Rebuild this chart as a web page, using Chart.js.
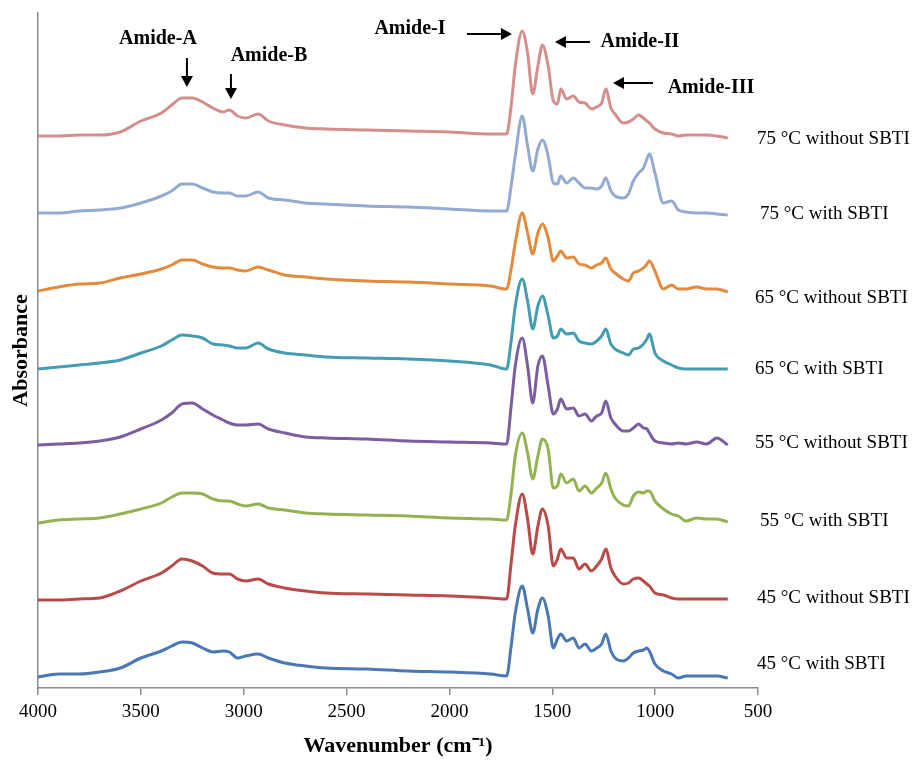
<!DOCTYPE html>
<html>
<head>
<meta charset="utf-8">
<script src="https://cdn.jsdelivr.net/npm/chart.js@4.4.1/dist/chart.umd.min.js"></script>
<style>
  body { margin: 0; background: #fff; }
  #wrap { width: 917px; height: 760px; position: relative; }
</style>
</head>
<body>
<div id="wrap"><canvas id="ftir"></canvas></div>
<script>

// wavenumber grid (cm-1), shared by all spectra
var wavenumbers = [4000, 3900, 3800, 3700, 3600, 3500, 3400, 3350, 3300, 3250,
  3200, 3150, 3100, 3070, 3030, 2990, 2930, 2880, 2800, 2700,
  2600, 2400, 2200, 2000, 1800, 1722, 1700, 1680, 1646, 1620,
  1595, 1570, 1548, 1520, 1495, 1475, 1459, 1430, 1398, 1370,
  1341, 1310, 1284, 1260, 1240, 1215, 1195, 1155, 1130, 1106,
  1080, 1057, 1040, 1028, 1001, 960, 920, 887, 850, 798,
  750, 700, 647];

// absorbance (stacked, arbitrary units)
var abs75without = [5.52, 5.52, 5.53, 5.53, 5.56, 5.67, 5.75, 5.83, 5.90, 5.90,
  5.86, 5.80, 5.76, 5.78, 5.72, 5.70, 5.74, 5.67, 5.63, 5.60,
  5.59, 5.58, 5.57, 5.56, 5.54, 5.54, 5.82, 6.22, 6.57, 6.35,
  5.94, 6.22, 6.43, 6.22, 5.87, 5.84, 5.99, 5.89, 5.92, 5.86,
  5.85, 5.79, 5.81, 5.85, 5.99, 5.80, 5.74, 5.65, 5.66, 5.69,
  5.73, 5.70, 5.67, 5.65, 5.59, 5.55, 5.54, 5.52, 5.53, 5.53,
  5.53, 5.52, 5.50];
var abs75with = [4.75, 4.75, 4.77, 4.78, 4.80, 4.85, 4.92, 4.97, 5.04, 5.04,
  5.00, 4.96, 4.95, 4.95, 4.92, 4.92, 4.96, 4.90, 4.88, 4.85,
  4.84, 4.82, 4.81, 4.79, 4.77, 4.77, 5.02, 5.32, 5.72, 5.42,
  5.17, 5.39, 5.48, 5.32, 5.05, 5.04, 5.12, 5.05, 5.10, 5.05,
  5.00, 5.00, 4.99, 5.02, 5.10, 4.97, 4.92, 4.90, 4.94, 5.07,
  5.15, 5.20, 5.29, 5.34, 5.15, 4.85, 4.87, 4.78, 4.76, 4.75,
  4.75, 4.74, 4.73];
var abs65without = [3.97, 4.01, 4.04, 4.05, 4.10, 4.14, 4.19, 4.23, 4.28, 4.28,
  4.24, 4.21, 4.20, 4.20, 4.18, 4.17, 4.21, 4.18, 4.13, 4.11,
  4.09, 4.07, 4.06, 4.04, 4.02, 3.99, 4.19, 4.45, 4.75, 4.55,
  4.34, 4.55, 4.64, 4.50, 4.27, 4.32, 4.37, 4.30, 4.31, 4.24,
  4.23, 4.20, 4.23, 4.25, 4.30, 4.19, 4.15, 4.09, 4.07, 4.15,
  4.17, 4.20, 4.24, 4.27, 4.17, 3.99, 4.03, 3.99, 3.99, 4.01,
  3.99, 3.99, 3.96];
var abs65with = [3.19, 3.21, 3.23, 3.25, 3.28, 3.35, 3.42, 3.48, 3.53, 3.52,
  3.50, 3.44, 3.43, 3.42, 3.40, 3.40, 3.45, 3.39, 3.35, 3.33,
  3.31, 3.30, 3.29, 3.27, 3.23, 3.19, 3.47, 3.82, 4.09, 3.87,
  3.59, 3.82, 3.92, 3.72, 3.50, 3.52, 3.59, 3.54, 3.55, 3.47,
  3.45, 3.44, 3.47, 3.52, 3.59, 3.44, 3.39, 3.35, 3.33, 3.39,
  3.40, 3.44, 3.49, 3.54, 3.35, 3.27, 3.23, 3.20, 3.19, 3.19,
  3.19, 3.19, 3.19];
var abs55without = [2.43, 2.44, 2.45, 2.47, 2.51, 2.59, 2.68, 2.75, 2.84, 2.85,
  2.79, 2.73, 2.68, 2.65, 2.63, 2.63, 2.64, 2.59, 2.55, 2.51,
  2.50, 2.49, 2.47, 2.46, 2.45, 2.44, 2.82, 3.22, 3.50, 3.22,
  2.85, 3.22, 3.32, 3.02, 2.74, 2.79, 2.89, 2.79, 2.80, 2.72,
  2.74, 2.67, 2.72, 2.75, 2.87, 2.70, 2.64, 2.57, 2.57, 2.60,
  2.64, 2.60, 2.59, 2.55, 2.47, 2.45, 2.44, 2.45, 2.44, 2.46,
  2.44, 2.50, 2.43];
var abs55with = [1.65, 1.68, 1.69, 1.70, 1.74, 1.79, 1.85, 1.91, 1.95, 1.95,
  1.94, 1.89, 1.87, 1.87, 1.84, 1.82, 1.84, 1.80, 1.78, 1.75,
  1.74, 1.73, 1.72, 1.70, 1.69, 1.68, 1.95, 2.32, 2.55, 2.35,
  2.09, 2.32, 2.49, 2.39, 2.00, 2.02, 2.14, 2.05, 2.09, 1.97,
  2.02, 1.95, 2.00, 2.05, 2.15, 1.99, 1.90, 1.83, 1.82, 1.92,
  1.96, 1.95, 1.97, 1.97, 1.87, 1.79, 1.74, 1.72, 1.67, 1.70,
  1.69, 1.69, 1.66];
var abs45without = [0.88, 0.88, 0.89, 0.90, 0.97, 1.07, 1.15, 1.22, 1.29, 1.27,
  1.22, 1.15, 1.14, 1.14, 1.09, 1.07, 1.09, 1.04, 1.00, 0.97,
  0.95, 0.94, 0.93, 0.92, 0.90, 0.89, 1.25, 1.62, 1.94, 1.69,
  1.34, 1.62, 1.79, 1.62, 1.22, 1.29, 1.39, 1.30, 1.30, 1.19,
  1.24, 1.17, 1.22, 1.29, 1.39, 1.20, 1.12, 1.04, 1.05, 1.09,
  1.10, 1.07, 1.04, 1.02, 0.95, 0.93, 0.90, 0.89, 0.89, 0.89,
  0.89, 0.89, 0.89];
var abs45with = [0.11, 0.14, 0.14, 0.16, 0.20, 0.30, 0.37, 0.42, 0.46, 0.45,
  0.40, 0.36, 0.37, 0.36, 0.30, 0.32, 0.34, 0.30, 0.25, 0.22,
  0.20, 0.19, 0.17, 0.16, 0.14, 0.12, 0.42, 0.75, 1.02, 0.79,
  0.55, 0.79, 0.90, 0.72, 0.40, 0.49, 0.54, 0.47, 0.50, 0.40,
  0.44, 0.37, 0.40, 0.44, 0.54, 0.37, 0.30, 0.27, 0.30, 0.35,
  0.37, 0.38, 0.40, 0.37, 0.24, 0.17, 0.14, 0.10, 0.12, 0.12,
  0.12, 0.12, 0.10];

var sampleNames = ["75 \u00B0C without SBTI", "75 \u00B0C with SBTI", "65 \u00B0C without SBTI", "65 \u00B0C with SBTI",
  "55 \u00B0C without SBTI", "55 \u00B0C with SBTI", "45 \u00B0C without SBTI", "45 \u00B0C with SBTI"];
var spectra = [abs75without, abs75with, abs65without, abs65with, abs55without, abs55with, abs45without, abs45with];
var lineColors = ['#D48F8D', '#93AAD3', '#E38A3C', '#449CB3', '#7B5DA0', '#93B350', '#B94A47', '#4A78B5'];

// band labels: name, wavenumber and level that the arrow points at
var bandNames = ['Amide-A', 'Amide-B', 'Amide-I', 'Amide-II', 'Amide-III'];
var bandWavenumbers = [3276, 3062, 1696, 1487, 1205];
var bandLevels = [6.01, 5.89, 6.54, 6.46, 6.05];


function toPoints(values) {
  var pts = [];
  for (var i = 0; i < wavenumbers.length; i++) {
    pts.push({x: wavenumbers[i], y: values[i]});
  }
  return pts;
}

var datasets = [];
for (var s = 0; s < spectra.length; s++) {
  datasets.push({
    label: sampleNames[s],
    data: toPoints(spectra[s]),
    borderColor: lineColors[s],
    borderWidth: 3,
    pointRadius: 0,
    cubicInterpolationMode: 'monotone',
    fill: false
  });
}

function drawArrow(ctx, x1, y1, x2, y2) {
  var ang = Math.atan2(y2 - y1, x2 - x1);
  var headLen = 11, half = 6;
  var bx = x2 - headLen * Math.cos(ang), by = y2 - headLen * Math.sin(ang);
  ctx.beginPath();
  ctx.moveTo(x1, y1);
  ctx.lineTo(bx, by);
  ctx.lineWidth = 2;
  ctx.strokeStyle = '#000';
  ctx.stroke();
  ctx.beginPath();
  ctx.moveTo(x2, y2);
  ctx.lineTo(bx + half * Math.sin(ang), by - half * Math.cos(ang));
  ctx.lineTo(bx - half * Math.sin(ang), by + half * Math.cos(ang));
  ctx.closePath();
  ctx.fillStyle = '#000';
  ctx.fill();
}

// sample names at the end of each trace + band arrows
var labelPlugin = {
  id: 'labels',
  afterDraw: function(chart) {
    var ctx = chart.ctx;
    var xs = chart.scales.x, ys = chart.scales.y;
    var nudgeY = [1, -1, 6, 0, -2, -1, -1, -14];
    var startX = [757, 760, 755, 755, 755, 760, 757, 757];
    ctx.save();
    ctx.font = '19px "Liberation Serif"';
    ctx.fillStyle = '#000';
    ctx.textBaseline = 'middle';
    ctx.textAlign = 'left';
    for (var i = 0; i < spectra.length; i++) {
      var last = spectra[i][spectra[i].length - 1];
      ctx.fillText(sampleNames[i], startX[i], ys.getPixelForValue(last) + nudgeY[i]);
    }

    // arrow tails and text centres, relative to the arrow tip
    var tail = [[0, -29], [0, -25], [-45, 0], [35, 0], [40, 0]];
    var text = [[-29, -48], [38, -43], [-102, -5], [85, 0], [98, 5]];
    ctx.font = 'bold 20px "Liberation Serif"';
    ctx.textAlign = 'center';
    for (var b = 0; b < bandNames.length; b++) {
      var tx = xs.getPixelForValue(bandWavenumbers[b]);
      var ty = ys.getPixelForValue(bandLevels[b]);
      drawArrow(ctx, tx + tail[b][0], ty + tail[b][1], tx, ty);
      ctx.fillStyle = '#000';
      ctx.fillText(bandNames[b], tx + text[b][0], ty + text[b][1]);
    }
    ctx.restore();
  }
};

var chart = new Chart(document.getElementById('ftir'), {
  type: 'line',
  data: { datasets: datasets },
  plugins: [labelPlugin],
  options: {
    responsive: true,
    maintainAspectRatio: false,
    animation: false,
    layout: { padding: { top: 13, right: 159, bottom: 0, left: 0 } },
    plugins: {
      legend: { display: false },
      tooltip: { enabled: false }
    },
    scales: {
      x: {
        type: 'linear',
        reverse: true,
        min: 500,
        max: 4000,
        afterFit: function(scale) { scale.height = 72; },
        border: { display: true, color: '#8c8c8c', width: 1.5 },
        grid: { drawOnChartArea: false, drawTicks: true, tickLength: 7, color: '#8c8c8c', lineWidth: 1.5 },
        ticks: {
          stepSize: 500,
          maxRotation: 0,
          padding: 6,
          color: '#000',
          font: { family: '"Liberation Serif"', size: 19 },
          callback: function(v) { return String(v); }
        },
        title: {
          display: true,
          text: 'Wavenumber (cm\u207B\u00B9)',
          color: '#000',
          padding: { top: 0, bottom: 0 },
          font: { family: '"Liberation Serif"', size: 22, weight: 'bold' }
        }
      },
      y: {
        min: 0,
        max: 6.75,
        afterFit: function(scale) { scale.width = 38; },
        border: { display: true, color: '#8c8c8c', width: 1.5 },
        grid: { display: false },
        ticks: { display: false },
        title: {
          display: true,
          text: 'Absorbance',
          color: '#000',
          padding: { top: 8, bottom: 0 },
          font: { family: '"Liberation Serif"', size: 22, weight: 'bold' }
        }
      }
    }
  }
});

</script>
</body>
</html>
